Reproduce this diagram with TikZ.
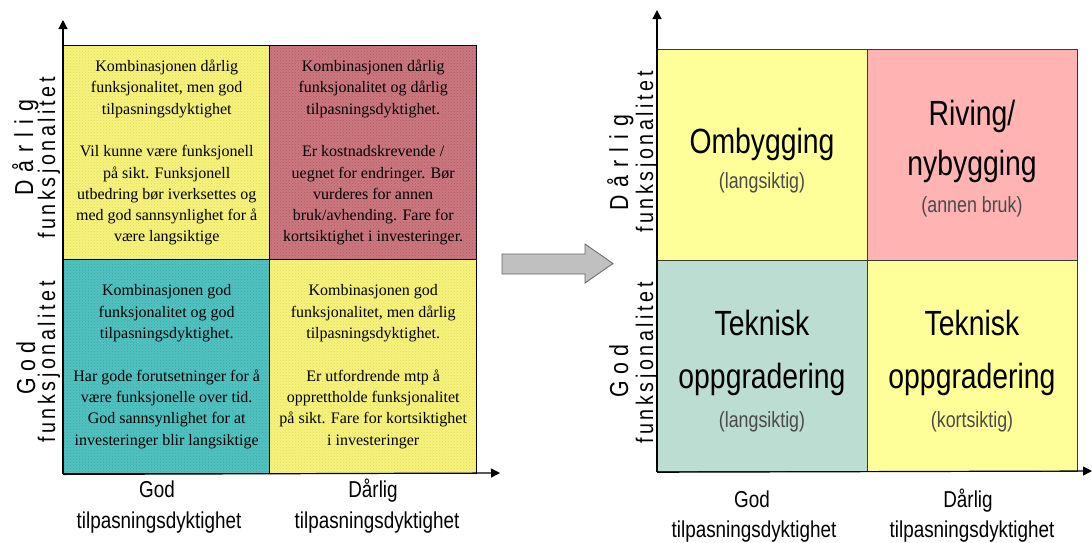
\documentclass[tikz,border=0pt]{standalone}
\usepackage{fontspec}
\setmainfont{Liberation Serif}
\newfontfamily\axisfont{Liberation Sans}[FakeStretch=0.82]
\newfontfamily\axiswide{Liberation Sans}[FakeStretch=0.82,LetterSpace=24]
\newfontfamily\axiswider{Liberation Sans}[FakeStretch=0.82,LetterSpace=31]
\newfontfamily\axismid{Liberation Sans}[FakeStretch=0.82,LetterSpace=15]
\newfontfamily\bigsans{Liberation Sans}[FakeStretch=0.81]
\usetikzlibrary{arrows.meta,patterns}

% fills of the textured matrix (left) and the plain matrix (right)
\definecolor{lyellow}{HTML}{F6F27C}
\definecolor{lyellowdot}{HTML}{E2DC60}
\definecolor{lred}{HTML}{CC7880}
\definecolor{lreddot}{HTML}{B05A66}
\definecolor{lteal}{HTML}{52C2C0}
\definecolor{ltealdot}{HTML}{3AAAA8}
\definecolor{ryellow}{HTML}{FFFF99}
\definecolor{rpink}{HTML}{FFB3B3}
\definecolor{rteal}{HTML}{BCDDD1}
\definecolor{rline}{HTML}{3A3A30}
\definecolor{subgrey}{HTML}{4A4A4A}
\definecolor{arrowgrey}{HTML}{C0C0C0}
\definecolor{arrowedge}{HTML}{666666}

\begin{document}
\begin{tikzpicture}[x=1pt,y=-1pt,
  lcell/.style={draw=black, line width=1.4pt, inner sep=0pt, align=center,
    anchor=north west, font=\fontsize{16}{21.3}\selectfont},
  textured/.style 2 args={preaction={fill=#1}, preaction={pattern=crosshatch dots, pattern color=#2}},
  rcell/.style={draw=rline, line width=1.2pt, inner sep=0pt, anchor=north west,
    minimum width=210pt, minimum height=211pt},
  bigtxt/.style={font=\bigsans\fontsize{35}{42}\selectfont, anchor=base, inner sep=0pt},
  subtxt/.style={font=\bigsans\fontsize{22}{26}\selectfont, text=subgrey, anchor=base, inner sep=0pt},
  axlab/.style={font=\axisfont\fontsize{23}{28}\selectfont, anchor=base, inner sep=0pt},
  vlabA/.style={font=\axiswide\fontsize{26}{30}\selectfont, rotate=90, anchor=base, inner sep=0pt},
  vlabW/.style={font=\axiswider\fontsize{26}{30}\selectfont, rotate=90, anchor=base, inner sep=0pt},
  vlabB/.style={font=\axismid\fontsize{24}{28}\selectfont, rotate=90, anchor=base, inner sep=0pt},
  axisline/.style={line width=1.2pt, -{Triangle[width=9pt,length=9pt]}}
]
\useasboundingbox[fill=white] (0,0) rectangle (1092,542);

% ---------- left matrix: descriptive text ----------
\node[lcell, textured={lyellow}{lyellowdot}, minimum width=206pt, minimum height=214pt] (ltl) at (63,45)
  {Kombinasjonen dårlig\\funksjonalitet, men god\\tilpasningsdyktighet\\[21.3pt]Vil kunne være funksjonell\\på sikt. Funksjonell\\utbedring bør iverksettes og\\med god sannsynlighet for å\\være langsiktige};
\node[lcell, textured={lred}{lreddot}, minimum width=207pt, minimum height=214pt] (ltr) at (269,45)
  {Kombinasjonen dårlig\\funksjonalitet og dårlig\\tilpasningsdyktighet.\\[21.3pt]Er kostnadskrevende /\\uegnet for endringer. Bør\\vurderes for annen\\bruk/avhending. Fare for\\kortsiktighet i investeringer.};
\node[lcell, textured={lteal}{ltealdot}, minimum width=206pt, minimum height=214pt] (lbl) at (63,259)
  {Kombinasjonen god\\funksjonalitet og god\\tilpasningsdyktighet.\\[21.3pt]Har gode forutsetninger for å\\være funksjonelle over tid.\\God sannsynlighet for at\\investeringer blir langsiktige};
\node[lcell, textured={lyellow}{lyellowdot}, minimum width=207pt, minimum height=214pt] (lbr) at (269,259)
  {Kombinasjonen god\\funksjonalitet, men dårlig\\tilpasningsdyktighet.\\[21.3pt]Er utfordrende mtp å\\opprettholde funksjonalitet\\på sikt. Fare for kortsiktighet\\i investeringer};

\coordinate (lytip) at (63,20);
\coordinate (lxtip) at (500,473);
\draw[axisline] (lbl.south west) -- (lytip);
\draw[axisline] (lbl.south west) -- (lxtip);

\node[vlabW] (lyd) at (33,148) {Dårlig};
\node[vlabB] (lyf) at (55,158) {funksjonalitet};
\node[vlabA] (lyg) at (35,368) {God};
\node[vlabB] (lyg2) at (55,362) {funksjonalitet};

\node[axlab] (lxg) at (157,497) {God};
\node[axlab] (lxg2) at (159,528) {tilpasningsdyktighet};
\node[axlab] (lxd) at (373,497) {Dårlig};
\node[axlab] (lxd2) at (377,528) {tilpasningsdyktighet};

% ---------- block arrow between the matrices ----------
\draw[fill=arrowgrey, draw=arrowedge, line width=0.8pt, line join=miter]
  (502,254) -- (585,254) -- (585,244) -- (613,263.5) -- (585,283) -- (585,274) -- (502,274) -- cycle;

% ---------- right matrix: measures ----------
\node[rcell, fill=ryellow] (rtl) at (657,49) {};
\node[rcell, fill=rpink] (rtr) at (867,49) {};
\node[rcell, fill=rteal] (rbl) at (657,260) {};
\node[rcell, fill=ryellow] (rbr) at (867,260) {};

\node[bigtxt] (omb1) at (762,153) {Ombygging};
\node[subtxt] (omb2) at (762,188) {(langsiktig)};
\node[bigtxt] (riv1) at (972,125) {Riving/};
\node[bigtxt] (riv2) at (972,175) {nybygging};
\node[subtxt] (riv3) at (972,212) {(annen bruk)};
\node[bigtxt] (tekl1) at (762,335) {Teknisk};
\node[bigtxt] (tekl2) at (762,388) {oppgradering};
\node[subtxt] (tekl3) at (762,427) {(langsiktig)};
\node[bigtxt] (tekr1) at (972,335) {Teknisk};
\node[bigtxt] (tekr2) at (972,388) {oppgradering};
\node[subtxt] (tekr3) at (972,427) {(kortsiktig)};

\coordinate (rytip) at (657,10);
\coordinate (rxtip) at (1092,471);
\draw[axisline] (rbl.south west) -- (rytip);
\draw[axisline] (rbl.south west) -- (rxtip);

\node[vlabW] (ryd) at (628,163) {Dårlig};
\node[vlabB] (ryf) at (653,152) {funksjonalitet};
\node[vlabA] (ryg) at (628,371) {God};
\node[vlabB] (ryg2) at (653,363) {funksjonalitet};

\node[axlab] (rxg) at (752,507) {God};
\node[axlab] (rxg2) at (754,537) {tilpasningsdyktighet};
\node[axlab] (rxd) at (968,507) {Dårlig};
\node[axlab] (rxd2) at (972,537) {tilpasningsdyktighet};
\end{tikzpicture}
\end{document}
